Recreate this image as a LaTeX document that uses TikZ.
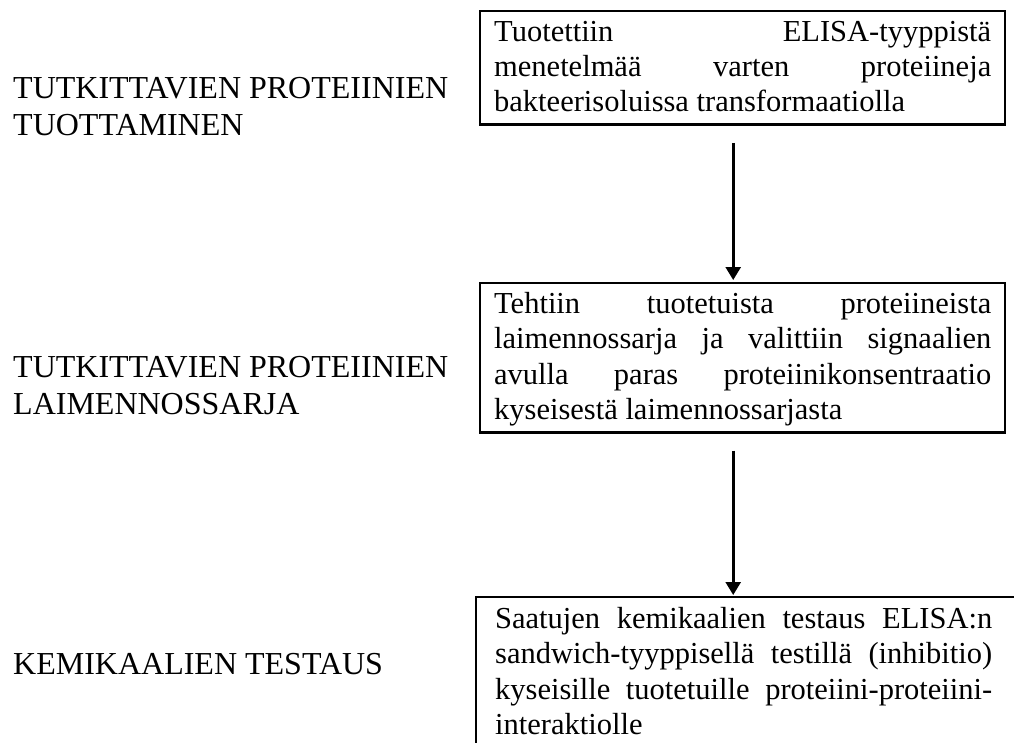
\documentclass[tikz,border=0pt]{standalone}
\usepackage{fontspec}
\setmainfont{Liberation Serif}
\usetikzlibrary{arrows.meta,calc}
\newcommand{\bstrut}{\rule[-0.25\baselineskip]{0pt}{\baselineskip}}
\newcommand{\boxset}{\fontsize{30.5}{35.3}\selectfont\hyphenpenalty=10000 \exhyphenpenalty=10000 \hbadness=10000 \tolerance=10000 \relax}
\tikzset{
  boxtext/.style={draw=black, line width=2.4pt, anchor=north west, text width=497pt,
    inner xsep=14pt, inner ysep=4pt, align=justify, font=\boxset},
  boxnoline/.style={boxtext, draw=none},
  label/.style={anchor=north west, inner sep=0pt, align=left, font=\fontsize{32}{36.8}\selectfont},
  arr/.style={line width=2.6pt, -{Triangle[width=15pt,length=13pt]}}
}
\begin{document}
\begin{tikzpicture}[x=1pt,y=-1pt]
\useasboundingbox (0,0) rectangle (1014,742);
\clip (0,0) rectangle (1014,742);
% boxes
\node[boxtext] (b1) at (479,9.5) {\bstrut Tuotettiin ELISA-tyyppistä\linebreak menetelmää varten proteiineja\linebreak bakteerisoluissa transformaatiolla\bstrut};
\node[boxtext] (b2) at (479,282) {\bstrut Tehtiin tuotetuista proteiineista\linebreak laimennossarja ja valittiin signaalien\linebreak avulla paras proteiinikonsentraatio\linebreak kyseisestä laimennossarjasta\bstrut};
\node[boxnoline] (b3) at (480,597) {\bstrut Saatujen kemikaalien testaus ELISA:n\linebreak sandwich-tyyppisellä testillä (inhibitio)\linebreak kyseisille tuotetuille proteiini-proteiini-\linebreak interaktiolle\bstrut};
\draw[line width=2.4pt] ($(b3.south west)+(-4,20)$) -- ($(b3.north west)+(-4,0)$) -- ($(b3.north east)+(30,0)$);
% labels
\node[label] (l1) at (13,70.4) {\bstrut TUTKITTAVIEN PROTEIINIEN\\\bstrut TUOTTAMINEN};
\node[label] (l2) at (13,350) {\bstrut TUTKITTAVIEN PROTEIINIEN\\\bstrut LAIMENNOSSARJA};
\node[label] (l3) at (13,647) {\bstrut KEMIKAALIEN TESTAUS};
% arrows
\coordinate (a1s) at ($(b1.south)+(-9.5,17)$);
\coordinate (a1e) at ($(b2.north)+(-9.5,-2)$);
\coordinate (a2s) at ($(b2.south)+(-9.5,17)$);
\coordinate (a2e) at ($(b3.north)+(-10.5,-2)$);
\draw[arr] (a1s) -- (a1e);
\draw[arr] (a2s) -- (a2e);
\end{tikzpicture}
\end{document}
